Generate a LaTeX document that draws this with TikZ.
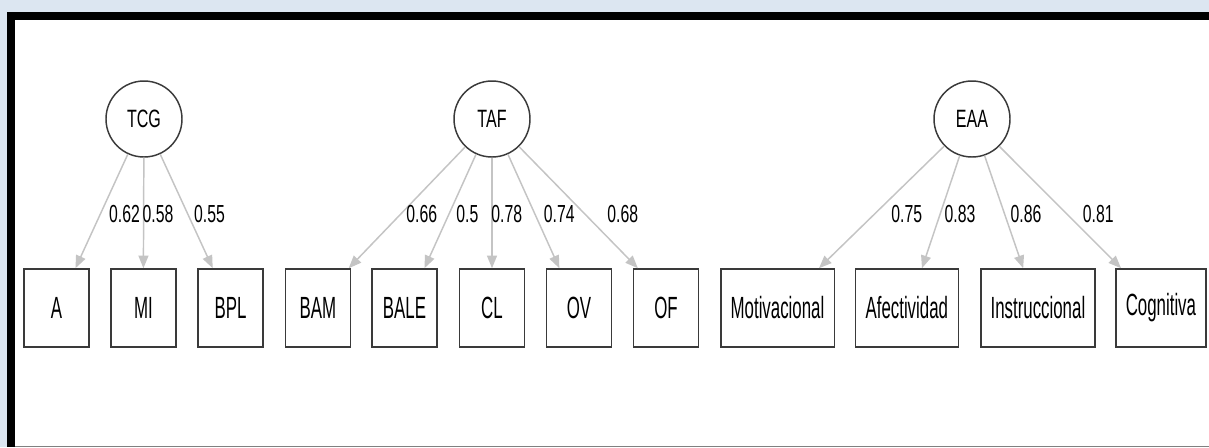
\documentclass[tikz,border=0pt]{standalone}
\usepackage{fontspec}
\usepackage{graphicx}
\setmainfont{Liberation Sans}
\usetikzlibrary{arrows.meta,calc}
\definecolor{bgblue}{HTML}{DCE6F1}
\definecolor{edgegray}{HTML}{C4C4C4}
\definecolor{linedark}{HTML}{3A3A3A}
\newcommand\latlab[1]{\fontsize{18.8pt}{20pt}\selectfont\scalebox{0.64}[1]{#1}}
\newcommand\obslab[1]{\fontsize{23pt}{24pt}\selectfont\scalebox{0.55}[1]{#1}}
\newcommand\loadlab[1]{\fontsize{18.5pt}{20pt}\selectfont\scalebox{0.64}[1]{#1}}
\begin{document}
\begin{tikzpicture}[x=0.75pt,y=-0.75pt,
 latent/.style={circle,draw=linedark,line width=1.1pt,minimum size=57pt,inner sep=0pt,fill=white},
 observed/.style={rectangle,draw=linedark,line width=1.2pt,minimum height=58.5pt,inner sep=0pt},
 loading/.style={draw=edgegray,line width=1.1pt,-{Triangle[length=9.5pt,width=7.5pt]}},
 coef/.style={inner sep=0pt}]
\useasboundingbox (0,0) rectangle (1209,447);
\fill[bgblue] (0,0) rectangle (1209,447);
\fill[white] (15,20) rectangle (1209,446);
\fill[black] (7,12) rectangle (15,447);
\fill[black] (7,12) rectangle (1209,20);
\draw[gray,line width=0.8pt] (15,446.3) -- (1209,446.3);

% latent variables
\node[latent] (TCG) at (144,119) {\latlab{TCG}};
\node[latent] (TAF) at (492,119) {\latlab{TAF}};
\node[latent] (EAA) at (972,119) {\latlab{EAA}};

% observed variables
\node[observed,minimum width=48.75pt] (A) at (56.5,308) {\obslab{A}};
\node[observed,minimum width=48.75pt] (MI) at (143.4,308) {\obslab{MI}};
\node[observed,minimum width=48.75pt] (BPL) at (230.5,308) {\obslab{BPL}};
\node[observed,minimum width=48.75pt] (BAM) at (317.9,308) {\obslab{BAM}};
\node[observed,minimum width=48.75pt] (BALE) at (404.5,308) {\obslab{BALE}};
\node[observed,minimum width=48.75pt] (CL) at (492,308) {\obslab{CL}};
\node[observed,minimum width=48.75pt] (OV) at (579,308) {\obslab{OV}};
\node[observed,minimum width=48.75pt] (OF) at (666,308) {\obslab{OF}};
\node[observed,minimum width=85.2pt] (MOT) at (777.5,308) {\obslab{Motivacional}};
\node[observed,minimum width=77.25pt] (AFE) at (906.8,308) {\obslab{Afectividad}};
\node[observed,minimum width=85.7pt] (INS) at (1037.9,308) {\obslab{Instruccional}};
\node[observed,minimum width=67.7pt] (COG) at (1160.9,308) {\obslab{Cognitiva}};

% loadings
\draw[loading] (TCG) -- ($(A.north west)!0.785!(A.north east)$);
\draw[loading] (TCG) -- (MI.north);
\draw[loading] (TCG) -- ($(BPL.north west)!0.233!(BPL.north east)$);
\draw[loading] (TAF) -- ($(BAM.north west)!0.963!(BAM.north east)$);
\draw[loading] (TAF) -- ($(BALE.north west)!0.80!(BALE.north east)$);
\draw[loading] (TAF) -- (CL.north);
\draw[loading] (TAF) -- ($(OV.north west)!0.205!(OV.north east)$);
\draw[loading] (TAF) -- ($(OF.north west)!0.077!(OF.north east)$);
\draw[loading] (EAA) -- ($(MOT.north west)!0.86!(MOT.north east)$);
\draw[loading] (EAA) -- ($(AFE.north west)!0.645!(AFE.north east)$);
\draw[loading] (EAA) -- ($(INS.north west)!0.373!(INS.north east)$);
\draw[loading] (EAA) -- ($(COG.north west)!0.066!(COG.north east)$);

% coefficients
\node[coef] (cA) at (124.5,214) {\loadlab{0.62}};
\node[coef] (cMI) at (158,214) {\loadlab{0.58}};
\node[coef] (cBPL) at (209.5,214) {\loadlab{0.55}};
\node[coef] (cBAM) at (421.7,214) {\loadlab{0.66}};
\node[coef] (cBALE) at (467.3,214) {\loadlab{0.5}};
\node[coef] (cCL) at (506.7,214) {\loadlab{0.78}};
\node[coef] (cOV) at (559.3,214) {\loadlab{0.74}};
\node[coef] (cOF) at (622.7,214) {\loadlab{0.68}};
\node[coef] (cMOT) at (906.7,214) {\loadlab{0.75}};
\node[coef] (cAFE) at (960,214) {\loadlab{0.83}};
\node[coef] (cINS) at (1026,214) {\loadlab{0.86}};
\node[coef] (cCOG) at (1098.3,214) {\loadlab{0.81}};
\end{tikzpicture}
\end{document}
